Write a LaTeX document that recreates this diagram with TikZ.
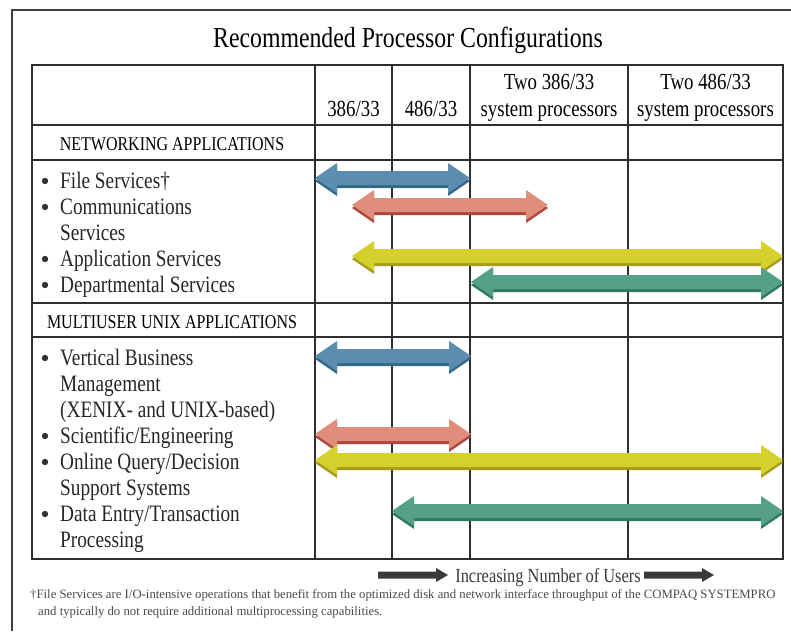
\documentclass[tikz,border=0pt]{standalone}
\usepackage{fontspec}
\setmainfont{Liberation Serif}
\newfontfamily\condf{Liberation Serif}[FakeStretch=0.82]
\definecolor{gridc}{HTML}{2E2E2E}
\definecolor{blueA}{HTML}{5A8DB0}
\definecolor{blueS}{HTML}{36688A}
\definecolor{redA}{HTML}{E08E7C}
\definecolor{redS}{HTML}{B0453A}
\definecolor{yelA}{HTML}{D6D02C}
\definecolor{yelS}{HTML}{A89A1E}
\definecolor{grnA}{HTML}{55A088}
\definecolor{grnS}{HTML}{2E7A62}
\definecolor{darkA}{HTML}{3A3A3A}
\definecolor{noteC}{HTML}{4A4A4A}
\newcommand\arrowshape[3]{(#1,#3) -- (#1+22,#3-15) -- (#1+22,#3-7) -- (#2-22,#3-7) -- (#2-22,#3-15) -- (#2,#3) -- (#2-22,#3+15) -- (#2-22,#3+7) -- (#1+22,#3+7) -- (#1+22,#3+15) -- cycle}
\newcommand\dArrow[5]{\fill[#5] \arrowshape{#1}{#2}{#3+3}; \fill[#4] \arrowshape{#1}{#2}{#3};}
\tikzset{
  gridline/.style={draw=gridc, line width=1.2pt},
  frameline/.style={draw=black!75, line width=1.4pt},
  titletext/.style={font=\condf\fontsize{29}{32}\selectfont, inner sep=0pt},
  headtext/.style={font=\condf\fontsize{23}{26}\selectfont, inner sep=0pt, anchor=base},
  captext/.style={font=\condf\fontsize{19.5}{22}\selectfont, inner sep=0pt, anchor=base},
  itemtext/.style={font=\condf\fontsize{23.5}{26}\selectfont, inner sep=0pt, anchor=base west, text=black!85},
  notetext/.style={font=\fontsize{12.75}{16}\selectfont, inner sep=0pt, anchor=base west, text=noteC},
  usertext/.style={font=\condf\fontsize{20}{22}\selectfont, inner sep=0pt, anchor=base, text=darkA},
  bullet/.style={fill=black!80},
}
\begin{document}
\begin{tikzpicture}[x=1pt,y=-1pt]
\useasboundingbox (0,0) rectangle (791,631);
% outer frame (top and left)
\draw[frameline] (12,631) -- (12,10) -- (791,10);
% title
\node[titletext, anchor=base] (title) at (408,48) {Recommended Processor Configurations};
% table grid
\draw[gridline] (32,65) rectangle (783,559);
\foreach \yy in {125,160,303,337} \draw[gridline] (32,\yy) -- (783,\yy);
\foreach \xx in {315,392,470,628} \draw[gridline] (\xx,65) -- (\xx,559);
% headers
\node[headtext] (h1) at (353.5,117) {386/33};
\node[headtext] (h2) at (431,117) {486/33};
\node[headtext] (h3a) at (549,90) {Two 386/33};
\node[headtext] (h3b) at (549,117) {system processors};
\node[headtext] (h4a) at (705.5,90) {Two 486/33};
\node[headtext] (h4b) at (705.5,117) {system processors};
% section captions
\node[captext] (net) at (172,150) {NETWORKING APPLICATIONS};
\node[captext] (multi) at (172,328) {MULTIUSER UNIX APPLICATIONS};
% networking items
\fill[bullet] (45,181) circle (3.2);
\node[itemtext] (n1) at (60,188) {File Services†};
\fill[bullet] (45,207) circle (3.2);
\node[itemtext] (n2) at (60,214) {Communications};
\node[itemtext] (n2b) at (60,240) {Services};
\fill[bullet] (45,259) circle (3.2);
\node[itemtext] (n3) at (60,266) {Application Services};
\fill[bullet] (45,285) circle (3.2);
\node[itemtext] (n4) at (60,292) {Departmental Services};
% multiuser items
\fill[bullet] (45,358) circle (3.2);
\node[itemtext] (m1) at (60,365) {Vertical Business};
\node[itemtext] (m1b) at (60,391) {Management};
\node[itemtext] (m1c) at (60,417) {(XENIX- and UNIX-based)};
\fill[bullet] (45,436) circle (3.2);
\node[itemtext] (m2) at (60,443) {Scientific/Engineering};
\fill[bullet] (45,462) circle (3.2);
\node[itemtext] (m3) at (60,469) {Online Query/Decision};
\node[itemtext] (m3b) at (60,495) {Support Systems};
\fill[bullet] (45,514) circle (3.2);
\node[itemtext] (m4) at (60,521) {Data Entry/Transaction};
\node[itemtext] (m4b) at (60,547) {Processing};
% range arrows, networking
\dArrow{315}{470}{178}{blueA}{blueS}
\dArrow{352}{548}{205}{redA}{redS}
\dArrow{352}{783}{256}{yelA}{yelS}
\dArrow{471}{783}{282}{grnA}{grnS}
% range arrows, multiuser
\dArrow{315}{471}{356}{blueA}{blueS}
\dArrow{315}{471}{434}{redA}{redS}
\dArrow{315}{783}{460}{yelA}{yelS}
\dArrow{392}{783}{511}{grnA}{grnS}
% increasing users
\node[usertext] (users) at (548,582) {Increasing Number of Users};
\fill[darkA] (378,571.5) -- (436,571.5) -- (436,568) -- (448,575) -- (436,582) -- (436,578.5) -- (378,578.5) -- cycle;
\fill[darkA] (644,571.5) -- (702,571.5) -- (702,568) -- (714,575) -- (702,582) -- (702,578.5) -- (644,578.5) -- cycle;
% footnote
\node[notetext] (note1) at (30,598) {†File Services are I/O-intensive operations that benefit from the optimized disk and network interface throughput of the COMPAQ SYSTEMPRO};
\node[notetext] (note2) at (38,615) {and typically do not require additional multiprocessing capabilities.};
\end{tikzpicture}
\end{document}
